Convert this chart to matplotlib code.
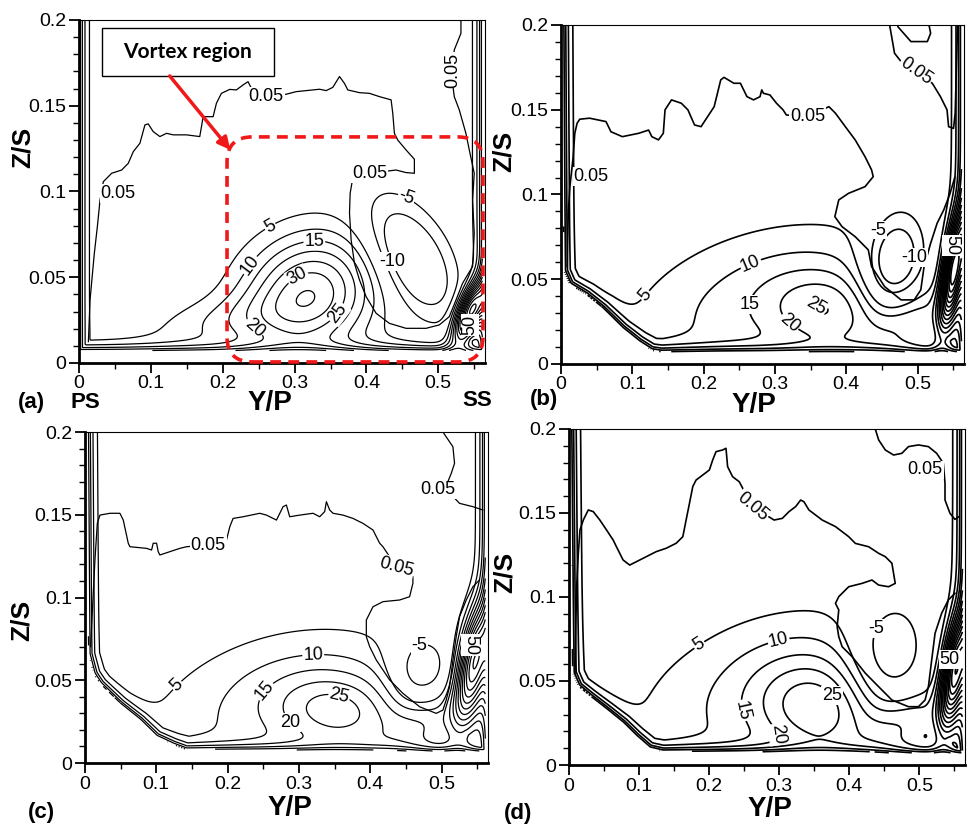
import numpy as np
import matplotlib
matplotlib.use('Agg')
import matplotlib.pyplot as plt
from matplotlib.path import Path
from matplotlib.patches import FancyBboxPatch, Rectangle
from matplotlib.ticker import MultipleLocator, FuncFormatter

plt.rcParams['font.family'] = ['Liberation Sans', 'DejaVu Sans']

# contour levels used by the vortex field
levels = [-10, -5, 5, 10, 15, 20, 25, 30, 35, 40, 45, 50, 55, 60, 65, 70, 75]

# vortex blobs: (y0, z0, amplitude, size_major, size_minor, angle_deg)
a_blobs = [(0.320, 0.040, 34, 0.066, 0.056, 30),
           (0.200, 0.024, 8, 0.075, 0.025, 8),
           (0.462, 0.061, -21, 0.062, 0.034, -60),
           (0.545, 0.030, 65, 0.032, 0.012, 68)]
b_blobs = [(0.380, 0.030, 15, 0.060, 0.040, -10),
           (0.290, 0.035, 13, 0.140, 0.075, 15),
           (0.466, 0.059, -22, 0.050, 0.030, 80),
           (0.490, 0.025, 10, 0.050, 0.025, 30),
           (0.550, 0.055, 70, 0.055, 0.010, 82)]
c_blobs = [(0.360, 0.030, 18, 0.065, 0.040, -10),
           (0.280, 0.035, 12, 0.140, 0.075, 15),
           (0.470, 0.055, -14, 0.040, 0.030, 80),
           (0.480, 0.025, 10, 0.050, 0.025, 30),
           (0.545, 0.060, 60, 0.060, 0.015, 80)]
d_blobs = [(0.360, 0.032, 19, 0.065, 0.050, -20),
           (0.300, 0.040, 12, 0.150, 0.085, 15),
           (0.455, 0.063, -16, 0.060, 0.040, 80),
           (0.480, 0.025, 10, 0.050, 0.025, 30),
           (0.550, 0.055, 65, 0.055, 0.012, 82)]

# edge of the measured region (pressure side wall, endwall, suction side wall)
a_wall = [(0.0, 0.2), (0.0, 0.007), (0.562, 0.007), (0.562, 0.2)]
b_wall = [(0.002, 0.2), (0.004, 0.055), (0.012, 0.047), (0.035, 0.041), (0.058, 0.033),
          (0.086, 0.021), (0.109, 0.013), (0.127, 0.008), (0.141, 0.007), (0.562, 0.007), (0.562, 0.2)]
c_wall = [(0.003, 0.2), (0.005, 0.066), (0.012, 0.054), (0.021, 0.048), (0.049, 0.036),
          (0.077, 0.026), (0.100, 0.016), (0.124, 0.011), (0.142, 0.008), (0.562, 0.007), (0.562, 0.2)]
d_wall = [(0.002, 0.2), (0.005, 0.055), (0.013, 0.047), (0.030, 0.041), (0.054, 0.033),
          (0.077, 0.025), (0.096, 0.017), (0.115, 0.010), (0.134, 0.008), (0.562, 0.007), (0.562, 0.2)]

# the 0.05 contour lines, traced point by point
a_lines = [[(0.013, 0.0124), (0.0153, 0.0367), (0.0213, 0.064), (0.0255, 0.0795), (0.0292, 0.095),
            (0.0338, 0.1057), (0.0454, 0.1106), (0.0593, 0.1125), (0.0685, 0.1164), (0.0755, 0.1232),
            (0.0847, 0.1281), (0.0917, 0.1388), (0.0963, 0.1394), (0.1032, 0.1349), (0.1125, 0.132),
            (0.1218, 0.1339), (0.131, 0.133), (0.1496, 0.133), (0.168, 0.132), (0.1704, 0.1378),
            (0.1727, 0.1436), (0.1866, 0.1436), (0.1912, 0.1514), (0.1981, 0.1572), (0.2097, 0.1595),
            (0.219, 0.1592), (0.2282, 0.1621), (0.2352, 0.164), (0.2398, 0.1602), (0.2606, 0.1553),
            (0.2884, 0.1567), (0.3023, 0.1582), (0.3162, 0.1588), (0.3347, 0.1596), (0.344, 0.1588),
            (0.3532, 0.1607), (0.3625, 0.167), (0.3694, 0.163), (0.374, 0.1592), (0.3903, 0.1576),
            (0.4042, 0.1572), (0.418, 0.1553), (0.4343, 0.1534), (0.4366, 0.1456), (0.4389, 0.1339),
            (0.4435, 0.13), (0.4551, 0.1242), (0.4667, 0.1188), (0.4667, 0.1106), (0.4551, 0.111),
            (0.4412, 0.1125), (0.4042, 0.1106), (0.3801, 0.1057), (0.3773, 0.0989), (0.3764, 0.0873),
            (0.3787, 0.0717), (0.3833, 0.0581), (0.3903, 0.0484), (0.3995, 0.0387), (0.4134, 0.029),
            (0.4319, 0.0231), (0.4551, 0.0202), (0.4829, 0.0202), (0.5014, 0.0222), (0.5153, 0.027),
            (0.5246, 0.0367), (0.5338, 0.0465), (0.5477, 0.0562), (0.55, 0.0756), (0.5477, 0.095),
            (0.55, 0.1106), (0.5431, 0.1242), (0.5384, 0.1339), (0.5292, 0.1475), (0.5222, 0.1553),
            (0.5199, 0.163), (0.5199, 0.1708), (0.5222, 0.1825), (0.5315, 0.1922), (0.5315, 0.2)]]
b_lines = [[(0.0087, 0.0574), (0.0101, 0.0889), (0.0124, 0.1046), (0.017, 0.1223), (0.0193, 0.1361),
            (0.0225, 0.142), (0.0262, 0.1444), (0.04, 0.145), (0.063, 0.143), (0.07, 0.137),
            (0.086, 0.1341), (0.109, 0.1361), (0.1228, 0.138), (0.1273, 0.1341), (0.1366, 0.1322),
            (0.1434, 0.1361), (0.1458, 0.1499), (0.1549, 0.1558), (0.1687, 0.1538), (0.1779, 0.1499),
            (0.1872, 0.141), (0.1963, 0.14), (0.2055, 0.1459), (0.2147, 0.1518), (0.2193, 0.1597),
            (0.2239, 0.1676), (0.2285, 0.1691), (0.2423, 0.1656), (0.2515, 0.1656), (0.2607, 0.1577),
            (0.2699, 0.1558), (0.279, 0.1577), (0.2814, 0.1617), (0.2837, 0.1597), (0.2929, 0.1587),
            (0.3021, 0.1538), (0.3113, 0.1499), (0.3159, 0.1469), (0.3458, 0.1459), (0.3756, 0.1518),
            (0.3848, 0.1479), (0.3986, 0.14), (0.4124, 0.1322), (0.4262, 0.1223), (0.4354, 0.1145),
            (0.4377, 0.1105), (0.4262, 0.1046), (0.4032, 0.1007), (0.3894, 0.0968), (0.3839, 0.0869),
            (0.394, 0.081), (0.4124, 0.0751), (0.4308, 0.0673), (0.4354, 0.0574), (0.4538, 0.0456),
            (0.4768, 0.0378), (0.4952, 0.0378), (0.5044, 0.0437), (0.509, 0.0574), (0.5182, 0.0712),
            (0.5273, 0.083), (0.5366, 0.0909), (0.545, 0.1), (0.552, 0.11)],
           [(0.4607, 0.2), (0.4676, 0.1833), (0.4768, 0.1784), (0.4975, 0.1725), (0.5205, 0.1656),
            (0.532, 0.1577), (0.5412, 0.1499), (0.5434, 0.14), (0.5503, 0.139), (0.5526, 0.1479),
            (0.556, 0.2)],
           [(0.4722, 0.2), (0.4722, 0.199), (0.4906, 0.1902), (0.5136, 0.1902), (0.5182, 0.1951),
            (0.5159, 0.2)]]
c_lines = [[(0.0079, 0.0703), (0.0107, 0.0944), (0.014, 0.1227), (0.0173, 0.1448), (0.021, 0.1498),
            (0.035, 0.1509), (0.049, 0.1509), (0.0537, 0.1468), (0.0607, 0.1328), (0.063, 0.1307),
            (0.0864, 0.1297), (0.0934, 0.1287), (0.0957, 0.1328), (0.1004, 0.1328), (0.1027, 0.1277),
            (0.105, 0.1257), (0.119, 0.1277), (0.133, 0.1297), (0.1424, 0.1307), (0.1727, 0.1317),
            (0.1984, 0.1347), (0.2031, 0.1428), (0.2077, 0.1478), (0.2217, 0.1488), (0.2451, 0.1509),
            (0.2545, 0.1498), (0.2685, 0.1468), (0.2778, 0.1549), (0.2824, 0.1559), (0.2871, 0.1488),
            (0.3011, 0.1498), (0.3198, 0.1509), (0.3291, 0.1488), (0.3361, 0.1519), (0.3385, 0.1579),
            (0.3431, 0.1529), (0.3478, 0.1509), (0.3618, 0.1498), (0.3758, 0.1478), (0.3898, 0.1448),
            (0.4038, 0.1408), (0.4132, 0.1328), (0.4178, 0.1307), (0.4365, 0.1186), (0.4598, 0.1126),
            (0.4598, 0.1086), (0.4552, 0.1005), (0.4412, 0.0985), (0.4178, 0.0975), (0.4038, 0.0944),
            (0.3945, 0.0864), (0.3945, 0.0763), (0.3992, 0.0703), (0.4085, 0.0622), (0.4272, 0.0502),
            (0.4458, 0.0421), (0.4692, 0.034), (0.4925, 0.03), (0.5019, 0.032), (0.5065, 0.0381),
            (0.5112, 0.0461), (0.5159, 0.0622), (0.5205, 0.0763), (0.5252, 0.0884), (0.5346, 0.0985),
            (0.5439, 0.1065), (0.5532, 0.1106)],
           [(0.5019, 0.2), (0.5159, 0.1911), (0.5182, 0.1811), (0.5136, 0.175), (0.505, 0.166),
            (0.5252, 0.1569), (0.5439, 0.1549), (0.5579, 0.1529)]]
d_lines = [[(0.0085, 0.0546), (0.0099, 0.0863), (0.0109, 0.1061), (0.0133, 0.126), (0.0156, 0.1399),
            (0.0204, 0.1458), (0.0275, 0.1518), (0.0346, 0.1508), (0.044, 0.1458), (0.0535, 0.1399),
            (0.063, 0.1339), (0.0677, 0.1299), (0.0772, 0.122), (0.0866, 0.119), (0.0961, 0.121),
            (0.1103, 0.124), (0.1245, 0.127), (0.1387, 0.129), (0.153, 0.132), (0.1624, 0.1359),
            (0.1671, 0.1458), (0.1719, 0.1558), (0.1766, 0.1657), (0.1813, 0.1696), (0.1908, 0.1726),
            (0.2003, 0.1756), (0.205, 0.1815), (0.2098, 0.1865), (0.2192, 0.1875), (0.224, 0.1885),
            (0.2263, 0.1776), (0.2334, 0.1716), (0.2429, 0.1686), (0.2618, 0.1538), (0.2926, 0.1458),
            (0.3044, 0.1468), (0.3139, 0.1508), (0.3234, 0.1538), (0.3305, 0.1577), (0.3352, 0.1567),
            (0.3423, 0.1518), (0.3613, 0.1458), (0.3802, 0.1419), (0.3991, 0.1359), (0.4086, 0.1319),
            (0.4276, 0.1299), (0.4418, 0.126), (0.4513, 0.124), (0.4607, 0.1201), (0.4631, 0.1141),
            (0.4655, 0.1081), (0.456, 0.1061), (0.4418, 0.1071), (0.4323, 0.1101), (0.4181, 0.1081),
            (0.3991, 0.1061), (0.3849, 0.1002), (0.3802, 0.0962), (0.3849, 0.0923), (0.3826, 0.0823),
            (0.3849, 0.0764), (0.3897, 0.0704), (0.4039, 0.0645), (0.4229, 0.0546), (0.4418, 0.0466),
            (0.4607, 0.0387), (0.4844, 0.0347), (0.4986, 0.0347), (0.5081, 0.0387), (0.5128, 0.0466),
            (0.5175, 0.0625), (0.5223, 0.0784), (0.5317, 0.0903), (0.5412, 0.0982), (0.5507, 0.1022)],
           [(0.437, 0.2), (0.4418, 0.1935), (0.4513, 0.1875), (0.4631, 0.1845), (0.4749, 0.1855),
            (0.4844, 0.1895), (0.4986, 0.1905), (0.5128, 0.1895), (0.5246, 0.1855), (0.5341, 0.1796),
            (0.5365, 0.1677), (0.5365, 0.1577), (0.5436, 0.1498), (0.5507, 0.1462), (0.5564, 0.1478)]]

# "0.05" labels: (y, z, rotation)
a_small = [(0.0546, 0.099, 0), (0.2606, 0.1553, 0), (0.4042, 0.1106, 0), (0.5199, 0.1708, 90)]
b_small = [(0.0423, 0.1105, 0), (0.3458, 0.1459, 0), (0.4975, 0.1725, -35)]
c_small = [(0.1727, 0.1317, 0), (0.4365, 0.1186, -15), (0.4948, 0.165, 0)]
d_small = [(0.2618, 0.1538, -40), (0.5081, 0.1756, 0)]

# level labels: (level, y, z, rotation or None to follow the line)
a_marks = [(5, 0.27, 0.077, None), (10, 0.242, 0.056, None), (15, 0.328, 0.070, None),
           (20, 0.254, 0.025, None), (25, 0.37, 0.026, None), (30, 0.314, 0.0426, None),
           (-5, 0.45, 0.092, -20), (-10, 0.46, 0.063, 0), (50, 0.543, 0.023, 90)]
b_marks = [(5, 0.12, 0.04, None), (10, 0.27, 0.0545, None), (15, 0.2686, 0.0348, 0),
           (20, 0.316, 0.022, None), (25, 0.355, 0.0368, -30), (-5, 0.4538, 0.0771, 0),
           (-10, 0.4745, 0.0633, 0), (50, 0.545, 0.07, -90)]
c_marks = [(5, 0.147, 0.04, None), (10, 0.32, 0.0663, None), (15, 0.2685, 0.038, None),
           (20, 0.3058, 0.031, 0), (25, 0.3548, 0.038, None), (-5, 0.4645, 0.0763, 0),
           (50, 0.5486, 0.0703, -90)]
d_marks = [(5, 0.212, 0.0546, None), (10, 0.3044, 0.0645, None), (15, 0.2737, 0.0347, None),
           (20, 0.3257, 0.0218, None), (25, 0.3731, 0.0407, 0), (-5, 0.4347, 0.0823, 0),
           (50, 0.546, 0.0625, 0)]

K = 2.4          # stretch of z so shapes follow the axes aspect
wall_amp = 25.0
wall_w = 0.009

yy, zz = np.meshgrid(np.linspace(0, 0.565, 460), np.linspace(0, 0.2, 330))


def wall_distance(wall):
    w = np.array(wall)
    pu, pv = yy, zz * K
    d = np.full(yy.shape, np.inf)
    for i in range(len(w) - 1):
        x0, y0 = w[i, 0], w[i, 1] * K
        dx, dy = w[i + 1, 0] - x0, w[i + 1, 1] * K - y0
        t = np.clip(((pu - x0) * dx + (pv - y0) * dy) / (dx * dx + dy * dy), 0, 1)
        d = np.minimum(d, np.hypot(pu - x0 - t * dx, pv - y0 - t * dy))
    return d


def make_field(blobs, wall):
    f = wall_amp * np.exp(-wall_distance(wall) / wall_w)
    for y0, z0, amp, sa, sb, ang in blobs:
        du, dv = yy - y0, (zz - z0) * K
        c, s = np.cos(np.radians(ang)), np.sin(np.radians(ang))
        p = du * c + dv * s
        q = -du * s + dv * c
        f = f + amp * np.exp(-0.5 * (p ** 2 / sa ** 2 + q ** 2 / sb ** 2))
    poly = Path(wall + [(0.6, 0.25), (-0.05, 0.25)])
    inside = poly.contains_points(np.c_[yy.ravel(), zz.ravel()]).reshape(yy.shape)
    return np.ma.masked_where(~inside, f)


def put_label(ax, cs, lev, x, y, rot):
    # nearest vertex of that level, text turned along the line
    segs = cs.allsegs[levels.index(lev)]
    best = None
    for seg in segs:
        if len(seg) < 3:
            continue
        d = (seg[:, 0] - x) ** 2 + ((seg[:, 1] - y) * K) ** 2
        i = int(np.argmin(d))
        if best is None or d[i] < best[0]:
            best = (d[i], seg, i)
    if best is None:
        return
    _, seg, i = best
    if rot is None:
        p0 = ax.transData.transform(seg[max(i - 3, 0)])
        p1 = ax.transData.transform(seg[min(i + 3, len(seg) - 1)])
        rot = np.degrees(np.arctan2(p1[1] - p0[1], p1[0] - p0[0]))
        if rot > 90:
            rot -= 180
        if rot < -90:
            rot += 180
    ax.text(seg[i, 0], seg[i, 1], '%g' % lev, fontsize=13, rotation=rot,
            rotation_mode='anchor', ha='center', va='center', zorder=4,
            bbox=dict(boxstyle='square,pad=0.05', fc='white', ec='none'))


def draw_panel(ax, blobs, wall, lines, small, marks, lw):
    ax.set_xlim(0, 0.565)
    ax.set_ylim(0, 0.2)
    f = make_field(blobs, wall)
    cs = ax.contour(yy, zz, f, levels=levels, colors='k', linewidths=lw,
                    linestyles='solid', negative_linestyles='solid')
    for lev, x, y, rot in marks:
        put_label(ax, cs, lev, x, y, rot)
    for ln in lines:
        pts = np.array(ln)
        ax.plot(pts[:, 0], pts[:, 1], color='k', lw=lw)
    for x, y, rot in small:
        ax.text(x, y, '0.05', fontsize=13, rotation=rot, ha='center', va='center', zorder=4,
                bbox=dict(boxstyle='square,pad=0.05', fc='white', ec='none'))

    ax.xaxis.set_major_locator(MultipleLocator(0.1))
    ax.xaxis.set_minor_locator(MultipleLocator(0.05))
    ax.yaxis.set_major_locator(MultipleLocator(0.05))
    ax.yaxis.set_minor_locator(MultipleLocator(0.01))
    fmt = FuncFormatter(lambda v, p: '%g' % round(v, 3))
    ax.xaxis.set_major_formatter(fmt)
    ax.yaxis.set_major_formatter(fmt)
    ax.tick_params(which='major', direction='out', length=7, width=1.3, labelsize=14, pad=2)
    ax.tick_params(which='minor', direction='out', length=4, width=1.0)
    for side in ['left', 'bottom']:
        ax.spines[side].set_linewidth(2.0)
    for side in ['top', 'right']:
        ax.spines[side].set_linewidth(0.8)


fig = plt.figure(figsize=(9.71, 8.24), dpi=100)
ax_a = fig.add_axes([0.0814, 0.5595, 0.4181, 0.4163])
ax_b = fig.add_axes([0.5778, 0.5583, 0.4150, 0.4114])
ax_c = fig.add_axes([0.0875, 0.0740, 0.4150, 0.4017])
ax_d = fig.add_axes([0.5860, 0.0716, 0.4078, 0.4078])

draw_panel(ax_a, a_blobs, a_wall, a_lines, a_small, a_marks, 0.9)
draw_panel(ax_b, b_blobs, b_wall, b_lines, b_small, b_marks, 1.2)
draw_panel(ax_c, c_blobs, c_wall, c_lines, c_small, c_marks, 0.9)
draw_panel(ax_d, d_blobs, d_wall, d_lines, d_small, d_marks, 1.2)

# axis titles and panel letters (axes fraction positions)
label_pos = {ax_a: ((-0.138, 0.627), (0.47, -0.117), (-0.118, -0.114), '(a)'),
             ax_b: ((-0.143, 0.626), (0.479, -0.122), (-0.042, -0.106), '(b)'),
             ax_c: ((-0.157, 0.432), (0.509, -0.136), (-0.107, -0.148), '(c)'),
             ax_d: ((-0.162, 0.574), (0.508, -0.131), (-0.129, -0.143), '(d)')}
for ax, (zs, yp, let, txt) in label_pos.items():
    ax.text(zs[0], zs[1], 'Z/S', transform=ax.transAxes, rotation=90, fontsize=19,
            fontweight='bold', ha='center', va='center')
    ax.text(yp[0], yp[1], 'Y/P', transform=ax.transAxes, fontsize=20,
            fontweight='bold', ha='center', va='center')
    ax.text(let[0], let[1], txt, transform=ax.transAxes, fontsize=16,
            fontweight='bold', ha='center', va='center')

ax_a.text(0.015, -0.116, 'PS', transform=ax_a.transAxes, fontsize=16, fontweight='bold',
          ha='center', va='center')
ax_a.text(0.98, -0.108, 'SS', transform=ax_a.transAxes, fontsize=16, fontweight='bold',
          ha='center', va='center')

# vortex region annotation
red = '#f01818'
box = FancyBboxPatch((0.3645, 0.003), 0.6305, 0.656, transform=ax_a.transAxes,
                     boxstyle='round,pad=0,rounding_size=0.062', mutation_aspect=406 / 343,
                     fill=False, ec=red, lw=2.6, ls=(0, (3, 2)), clip_on=False, zorder=5)
ax_a.add_patch(box)
ax_a.add_patch(Rectangle((0.0567, 0.837), 0.4233, 0.140, transform=ax_a.transAxes,
                         fc='white', ec='k', lw=1.0, zorder=6))
ax_a.text(0.268, 0.907, 'Vortex region', transform=ax_a.transAxes, fontsize=15,
          fontweight='bold', family=['Lato', 'DejaVu Sans'], ha='center', va='center', zorder=7)
ax_a.annotate('', xy=(0.377, 0.615), xytext=(0.219, 0.843), xycoords='axes fraction',
              arrowprops=dict(arrowstyle='-|>', color=red, lw=2.5, mutation_scale=18), zorder=7)

fig.savefig('out.png', dpi=100)
